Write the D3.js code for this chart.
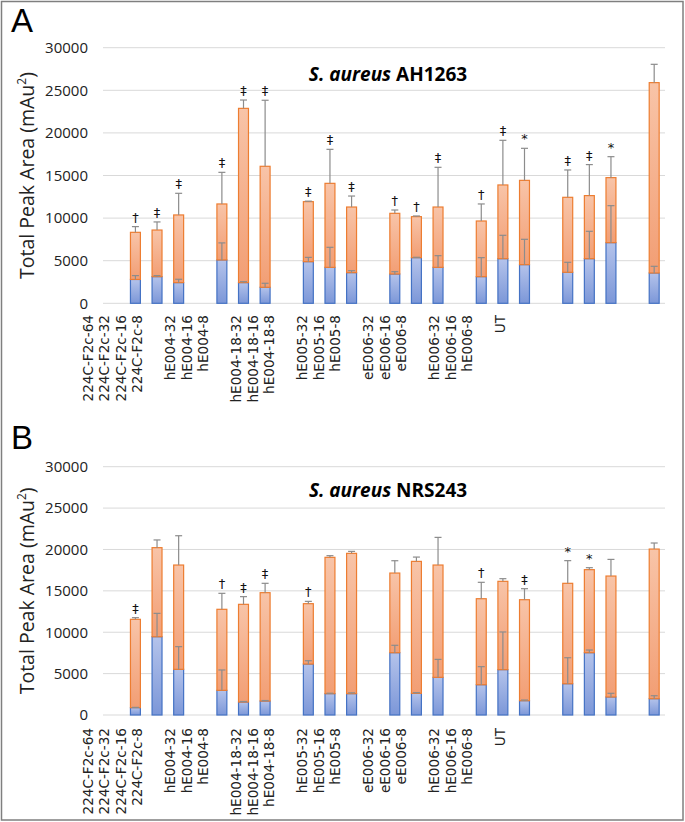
<!DOCTYPE html>
<html>
<head>
<meta charset="utf-8">
<script src="https://cdn.jsdelivr.net/npm/d3@7"></script>
<style>
  body { margin: 0; background: #fff; }
  svg { display: block; }
</style>
</head>
<body>
<svg width="685" height="822"></svg>
<script>
var svg = d3.select('svg');

// slots on the x axis, "" = empty gap between groups
var categories = ['224C-F2c-64', '224C-F2c-32', '224C-F2c-16', '224C-F2c-8', '',
  'hE004-32', 'hE004-16', 'hE004-8', '',
  'hE004-18-32', 'hE004-18-16', 'hE004-18-8', '',
  'hE005-32', 'hE005-16', 'hE005-8', '',
  'eE006-32', 'eE006-16', 'eE006-8', '',
  'hE006-32', 'hE006-16', 'hE006-8', '',
  'UT'];

var yTicks = [0, 5000, 10000, 15000, 20000, 25000, 30000];

// panel A - S. aureus AH1263
var blueA      = [null, 2800, 3130, 2430, null, 5090, 2430, 1880, null, 4890, 4220, 3600, null, 3440, 5360, 4220, null, 3130, 5240, 4540, null, 3640, 5240, 7120, null, 3560];
var blueErrA   = [null, 450, 120, 390, null, 2000, 110, 470, null, 500, 2350, 230, null, 270, 40, 1370, null, 2230, 2740, 2970, null, 1170, 3210, 4340, null, 780];
var orangeA    = [null, 5530, 5470, 7940, null, 6570, 20450, 14200, null, 7040, 9860, 7700, null, 7120, 4810, 7080, null, 6530, 8650, 9890, null, 8800, 7400, 7630, null, 22340];
var totalErrA  = [null, 670, 950, 2540, null, 3710, 980, 7750, null, 60, 3990, 1290, null, 390, 80, 4660, null, 2000, 5240, 3760, null, 3210, 3640, 2460, null, 2150];
var markA      = ['', '†', '‡', '‡', '', '‡', '‡', '‡', '', '‡', '‡', '‡', '', '†', '†', '‡', '', '†', '‡', '*', '', '‡', '‡', '*', '', ''];

// panel B - S. aureus NRS243
var blueB      = [null, 890, 9460, 5520, null, 2980, 1570, 1690, null, 6160, 2580, 2580, null, 7530, 2620, 4550, null, 3660, 5480, 1730, null, 3780, 7530, 2180, null, 1970];
var blueErrB   = [null, 30, 2820, 2740, null, 2460, 60, 60, null, 400, 50, 100, null, 890, 80, 2170, null, 2180, 4550, 80, null, 3140, 320, 440, null, 360];
var orangeB    = [null, 10670, 10760, 12600, null, 9790, 11800, 13090, null, 7290, 16470, 16950, null, 9620, 15940, 13570, null, 10390, 10670, 12200, null, 12130, 10030, 14610, null, 18080];
var totalErrB  = [null, 200, 930, 3540, null, 1930, 930, 1130, null, 280, 200, 240, null, 1490, 520, 3340, null, 1980, 320, 1330, null, 2740, 240, 2010, null, 730];
var markB      = ['', '‡', '', '', '', '†', '‡', '‡', '', '†', '', '', '', '', '', '', '', '†', '', '‡', '', '*', '*', '', '', ''];

// gradients for the bars
var defs = svg.append('defs');
function grad(id, c1, c2) {
    var g = defs.append('linearGradient').attr('id', id)
        .attr('x1', 0).attr('y1', 0).attr('x2', 0).attr('y2', 1);
    g.append('stop').attr('offset', '0%').attr('stop-color', c1);
    g.append('stop').attr('offset', '100%').attr('stop-color', c2);
}
grad('gOrange', '#F8C4A8', '#F29E74');
grad('gBlue', '#B4C3EB', '#7C97D8');

// outer frame
svg.append('rect')
    .attr('x', 1.5).attr('y', 1.5)
    .attr('width', 681.5).attr('height', 818.5)
    .attr('fill', 'none')
    .attr('stroke', '#7f7f7f')
    .attr('stroke-width', 1.5);

function drawPanel(p) {
    var g = svg.append('g');

    var x = d3.scaleBand()
        .domain(d3.range(categories.length))
        .range([103, 665])
        .paddingInner(0.54)
        .paddingOuter(0.27);

    // Excel put the rotated labels on their own, tighter spacing
    var xLab = d3.scalePoint()
        .domain(d3.range(categories.length))
        .range([88, 500]);

    var y = d3.scaleLinear()
        .domain([0, 30000])
        .range([p.y0, p.y1]);

    // gridlines
    g.selectAll('.grid')
        .data(yTicks)
        .enter().append('line')
        .attr('x1', 103).attr('x2', 665)
        .attr('y1', function(d) { return y(d); })
        .attr('y2', function(d) { return y(d); })
        .attr('stroke', '#d9d9d9')
        .attr('stroke-width', 1);

    // y axis labels
    var yAxis = d3.axisLeft(y).tickValues(yTicks).tickSize(0).tickPadding(0)
        .tickFormat(d3.format('d'));
    var yAxisG = g.append('g')
        .attr('transform', 'translate(88,0)')
        .call(yAxis);
    yAxisG.select('.domain').remove();
    yAxisG.selectAll('text')
        .attr('font-family', '"Open Sans", sans-serif')
        .attr('font-size', 15)
        .attr('fill', '#222');

    // x axis labels, rotated, top aligned under the plot
    var labG = g.selectAll('.xlab')
        .data(d3.range(categories.length).filter(function(i) { return categories[i] !== ''; }))
        .enter().append('g')
        .attr('class', 'xlab')
        .attr('transform', function(i) { return 'translate(' + xLab(i) + ',' + p.labTop + ')'; });
    labG.append('text')
        .attr('transform', 'rotate(-90)')
        .attr('x', 0)
        .attr('y', 5)
        .style('text-anchor', 'end')
        .style('font-family', '"DejaVu Sans", sans-serif')
        .style('font-size', '13.6px')
        .style('fill', '#222')
        .text(function(i) { return categories[i]; });

    var idx = d3.range(categories.length).filter(function(i) { return p.blue[i] != null; });

    // blue bottom segment
    g.selectAll('.blue')
        .data(idx)
        .enter().append('rect')
        .attr('x', function(i) { return x(i); })
        .attr('width', x.bandwidth())
        .attr('y', function(i) { return y(p.blue[i]); })
        .attr('height', function(i) { return y(0) - y(p.blue[i]); })
        .attr('fill', 'url(#gBlue)')
        .attr('stroke', '#4472C4')
        .attr('stroke-width', 1.2);

    // orange top segment
    g.selectAll('.orange')
        .data(idx)
        .enter().append('rect')
        .attr('x', function(i) { return x(i); })
        .attr('width', x.bandwidth())
        .attr('y', function(i) { return y(p.blue[i] + p.orange[i]); })
        .attr('height', function(i) { return y(p.blue[i]) - y(p.blue[i] + p.orange[i]); })
        .attr('fill', 'url(#gOrange)')
        .attr('stroke', '#ED7D31')
        .attr('stroke-width', 1.2);

    // error bars (plus only)
    function errBars(base, err) {
        var e = g.selectAll(null)
            .data(idx)
            .enter().append('g')
            .attr('stroke', '#8c8c8c')
            .attr('stroke-width', 1.2);
        e.append('line')
            .attr('x1', function(i) { return x(i) + x.bandwidth() / 2; })
            .attr('x2', function(i) { return x(i) + x.bandwidth() / 2; })
            .attr('y1', function(i) { return y(base(i)); })
            .attr('y2', function(i) { return y(base(i) + err[i]); });
        e.append('line')
            .attr('x1', function(i) { return x(i) + x.bandwidth() / 2 - 3.5; })
            .attr('x2', function(i) { return x(i) + x.bandwidth() / 2 + 3.5; })
            .attr('y1', function(i) { return y(base(i) + err[i]); })
            .attr('y2', function(i) { return y(base(i) + err[i]); });
    }
    errBars(function(i) { return p.blue[i]; }, p.blueErr);
    errBars(function(i) { return p.blue[i] + p.orange[i]; }, p.totalErr);

    // significance marks
    g.selectAll('.mark')
        .data(idx.filter(function(i) { return p.mark[i]; }))
        .enter().append('text')
        .attr('x', function(i) { return x(i) + x.bandwidth() / 2; })
        .attr('y', function(i) { return y(p.blue[i] + p.orange[i] + p.totalErr[i]) - 5; })
        .attr('text-anchor', 'middle')
        .attr('font-family', '"DejaVu Sans", sans-serif')
        .attr('font-size', 13)
        .attr('fill', '#111')
        .text(function(i) { return p.mark[i]; });

    // chart title
    var t = g.append('text')
        .attr('x', 388).attr('y', p.titleY)
        .attr('text-anchor', 'middle')
        .attr('font-family', '"Open Sans", sans-serif')
        .attr('font-weight', 'bold')
        .attr('font-size', 19)
        .attr('fill', '#000');
    t.append('tspan').attr('font-style', 'italic').text('S. aureus');
    t.append('tspan').text(' ' + p.strain);

    // y axis title
    var yt = g.append('text')
        .attr('transform', 'translate(34,' + (y(15000)) + ') rotate(-90)')
        .attr('text-anchor', 'middle')
        .attr('font-family', '"Open Sans", sans-serif')
        .attr('font-size', 19.5)
        .attr('fill', '#222');
    yt.append('tspan').text('Total Peak Area (mAu');
    yt.append('tspan').attr('font-size', 12).attr('dy', -8).text('2');
    yt.append('tspan').attr('dy', 8).text(')');

    // panel letter
    g.append('text')
        .attr('x', 11).attr('y', p.letterY)
        .attr('font-family', '"Liberation Sans", Arial, sans-serif')
        .attr('font-size', 33)
        .attr('fill', '#000')
        .text(p.letter);
}

drawPanel({ letter: 'A', letterY: 32, strain: 'AH1263', titleY: 81,
    y0: 303.3, y1: 47.7, labTop: 315,
    blue: blueA, blueErr: blueErrA, orange: orangeA, totalErr: totalErrA, mark: markA });

drawPanel({ letter: 'B', letterY: 449, strain: 'NRS243', titleY: 497,
    y0: 715, y1: 466.7, labTop: 728,
    blue: blueB, blueErr: blueErrB, orange: orangeB, totalErr: totalErrB, mark: markB });
</script>
</body>
</html>
